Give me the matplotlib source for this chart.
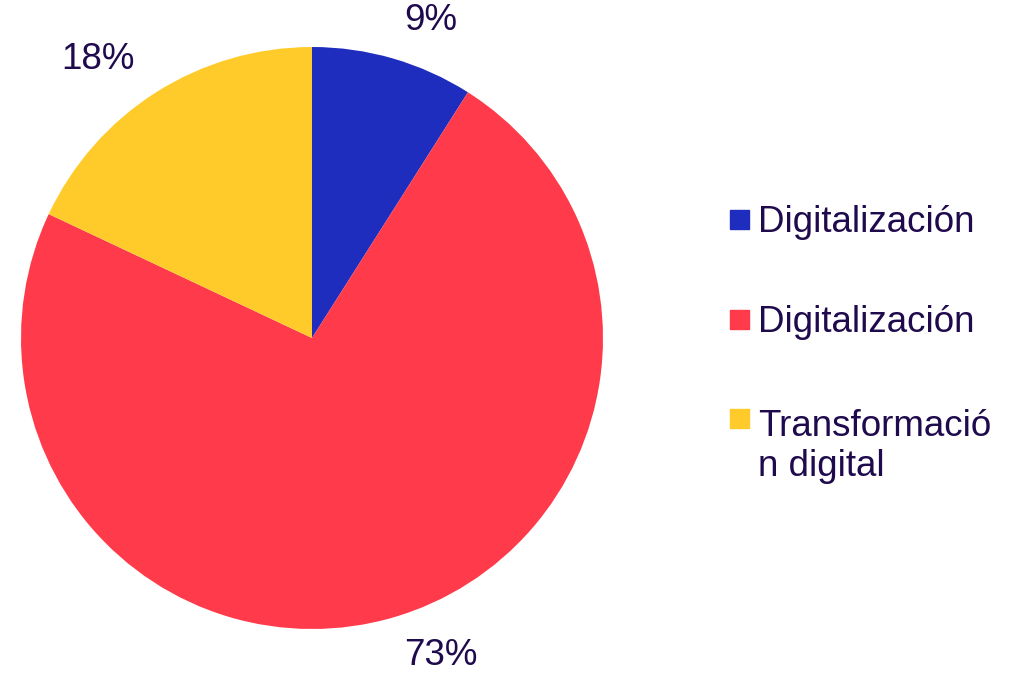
import matplotlib.pyplot as plt
from matplotlib.patches import Rectangle

plt.rcParams['font.family'] = ['Liberation Sans', 'DejaVu Sans']

labels = ['Digitalización', 'Digitalización', 'Transformació\nn digital']
shares = [9, 73, 18]
colors = ['#1F2DBE', '#FF3B4B', '#FFCB2B']
text_color = '#1F0A4D'

W, H = 1020, 674
fig = plt.figure(figsize=(W / 100, H / 100), dpi=100)
cx, cy, r = 312, 338, 291
ax = fig.add_axes([(cx - r) / W, (H - cy - r) / H, 2 * r / W, 2 * r / H])

wedges, texts = ax.pie(shares, colors=colors, startangle=90, counterclock=False,
                       labels=[f'{s}%' for s in shares], labeldistance=1.135,
                       textprops=dict(color=text_color, fontsize=26.5))
ax.set_xlim(-1, 1)
ax.set_ylim(-1, 1)
ax.set_aspect('equal')

# legend drawn by hand so the square lines up with the first text line
line_h = 45
first_baselines = [232, 332, 431]
for lab, col, b in zip(labels, colors, first_baselines):
    fig.patches.append(Rectangle((730 / W, 1 - (b - 3) / H), 19 / W, 19 / H,
                                 transform=fig.transFigure, color=col))
    last_b = b + line_h * lab.count('\n')
    fig.text(758 / W, 1 - last_b / H, lab, color=text_color, fontsize=26.5,
             va='baseline', ha='left', linespacing=1.2)

fig.savefig('out.png', dpi=100)
